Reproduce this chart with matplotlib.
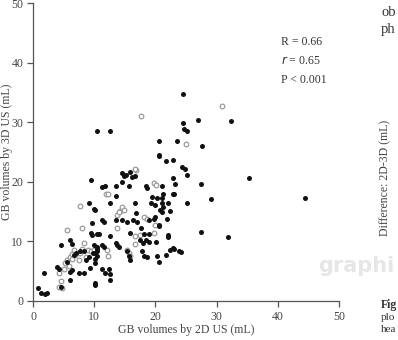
import matplotlib.pyplot as plt

plt.rcParams['font.family'] = ['Liberation Serif', 'DejaVu Serif']

# ─── data ──────────────────────────────────────────────────────
solid_x = [0.8, 1.3, 1.9, 2.3, 1.8, 4.5, 3.9, 4.2, 4.6, 6.1, 6.4, 6.0, 7.5, 7.7, 8.3,
           8.6, 9.1, 9.8, 10.5, 9.3, 8.3, 9.9, 10.4, 6.7, 7.0, 5.6, 6.1, 6.3, 9.4, 9.7,
           10.5, 9.7, 10.2, 11.6, 10.7, 12.6, 11.3, 11.6, 13.5, 13.7, 14.0, 10.2, 10.5, 15.4, 15.6,
           15.9, 17.8, 18.1, 18.6, 20.3, 17.9, 18.9, 11.3, 11.8, 12.4, 12.6, 12.6, 10.2, 15.9, 18.9,
           18.4, 20.5, 10.2, 21.7, 22.3, 23.0, 23.8, 22.1, 9.5, 9.1, 9.9, 10.2, 11.3, 11.7, 13.5,
           15.6, 18.4, 21.1, 13.5, 12.6, 16.7, 14.6, 14.8, 15.2, 16.2, 16.6, 14.6, 19.4, 20.3, 21.0,
           19.3, 20.0, 21.0, 11.3, 13.5, 14.6, 15.4, 16.4, 18.9, 19.7, 20.5, 21.8, 22.8, 24.3, 24.8,
           25.2, 22.8, 23.2, 27.4, 21.3, 23.1, 29.0, 25.2, 20.8, 22.3, 21.9, 27.5, 22.0, 31.8, 22.9,
           35.3, 44.5, 10.4, 12.6, 24.5, 24.5, 24.6, 25.2, 27.0, 32.3, 20.6, 23.5, 20.6, 27.6, 10.5,
           10.1, 15.9, 16.9, 17.0, 17.5, 17.7, 18.1, 18.6, 20.0, 20.1, 20.5, 21.0, 21.3, 22.1, 22.8,
           24.1, 20.6]
solid_y = [2.2, 1.3, 1.2, 1.4, 4.6, 9.4, 5.7, 5.4, 2.4, 4.9, 5.2, 3.5, 4.7, 8.3, 8.4,
           6.9, 7.3, 8.0, 8.3, 5.5, 4.6, 9.4, 9.1, 7.7, 8.0, 6.6, 10.2, 9.5, 11.4, 11.1,
           11.2, 13.0, 2.7, 13.3, 11.2, 10.9, 9.4, 9.1, 9.7, 9.4, 9.1, 8.0, 7.5, 8.3, 7.5,
           6.9, 8.3, 7.5, 7.4, 7.5, 9.7, 9.9, 5.3, 4.7, 5.3, 4.5, 3.5, 6.3, 11.4, 11.3,
           10.2, 12.6, 3.0, 7.7, 8.5, 8.7, 8.4, 11.0, 20.3, 16.4, 15.4, 15.2, 19.1, 19.3, 19.3,
           19.3, 19.3, 19.3, 17.6, 16.5, 16.5, 21.4, 20.9, 21.1, 20.8, 20.9, 19.9, 17.5, 17.2, 17.2,
           16.4, 16.1, 16.4, 13.5, 13.6, 13.5, 13.3, 13.6, 13.5, 13.7, 24.5, 23.5, 23.7, 22.5, 22.2,
           21.1, 20.7, 19.7, 19.6, 18.0, 17.9, 17.1, 16.4, 15.2, 15.1, 13.7, 11.5, 10.8, 10.8, 8.8,
           20.7, 17.2, 28.6, 28.6, 34.7, 29.9, 28.9, 28.6, 30.3, 30.2, 26.9, 26.9, 24.4, 26.0, 8.7,
           7.0, 21.7, 14.7, 13.3, 10.2, 12.3, 11.3, 18.9, 14.1, 9.9, 12.7, 15.0, 15.7, 16.5, 17.9,
           8.2, 6.5]

open_x = [4.2, 4.5, 4.2, 4.8, 5.0, 5.3, 5.6, 5.8, 6.1, 6.4, 6.7, 6.9, 7.5, 7.7, 8.0,
          8.6, 8.9, 9.5, 10.0, 7.7, 5.6, 8.0, 8.3, 12.0, 12.3, 12.1, 13.7, 13.7, 14.2, 14.5,
          14.9, 14.1, 15.4, 15.6, 15.8, 16.7, 17.5, 16.7, 16.8, 18.1, 18.6, 19.7, 20.1, 19.7, 20.0,
          17.6, 25.0, 30.9, 16.7, 12.3, 6.3]
open_y = [4.6, 3.4, 2.4, 2.1, 5.3, 6.3, 6.9, 5.9, 7.3, 7.0, 8.5, 7.7, 6.9, 8.1, 8.7,
          7.3, 8.5, 8.4, 8.6, 15.9, 11.9, 12.3, 9.8, 17.9, 7.5, 8.5, 12.2, 14.4, 15.1, 15.7,
          15.3, 15.0, 8.6, 8.1, 7.5, 10.9, 11.0, 9.5, 21.9, 14.1, 13.7, 19.8, 19.4, 11.4, 12.7,
          31.1, 26.3, 32.7, 22.1, 18.0, 7.9]

ticks = [0, 10, 20, 30, 40, 50]
stats = ['R = 0.66', '$r$ = 0.65', 'P < 0.001']

# ─── figure ────────────────────────────────────────────────────
fig = plt.figure(figsize=(3.98, 3.40), dpi=100)
ax = fig.add_axes([0.083, 0.115, 0.769, 0.876])

ax.scatter(open_x, open_y, s=11, facecolors='white', edgecolors='#9a9a9a',
           linewidths=0.9, zorder=2)
ax.scatter(solid_x, solid_y, s=13, color='#111111', linewidths=0, zorder=3)

ax.set_xlim(0, 50)
ax.set_ylim(0, 50)
ax.set_xticks(ticks)
ax.set_yticks(ticks)
for s in ['top', 'right']:
    ax.spines[s].set_visible(False)
for s in ['left', 'bottom']:
    ax.spines[s].set_color('#555555')
    ax.spines[s].set_linewidth(0.9)
ax.tick_params(direction='out', length=4, width=0.9, color='#555555',
               labelsize=8.5, labelcolor='#444444', pad=3)
ax.set_xlabel('GB volumes by 2D US (mL)', fontsize=8.5, color='#444444')
ax.set_ylabel('GB volumes by 3D US (mL)', fontsize=8.5, color='#444444')
ax.xaxis.set_label_coords(0.5, -0.078)
ax.yaxis.set_label_coords(-0.067, 0.5)

for i, t in enumerate(stats):
    fig.text(281 / 398, 1 - (42 + 19 * i) / 340, t, fontsize=8.5, color='#333333',
             va='center', ha='left')

# ─── cut-off neighbouring page content ────────────────────────
fig.text(381 / 398, 1 - 13 / 340, 'ob', fontsize=10.5, color='#333333', va='center')
fig.text(381 / 398, 1 - 30 / 340, 'ph', fontsize=10.5, color='#333333', va='center')
fig.text(385 / 398, 1 - 178 / 340, 'Difference: 2D-3D (mL)', fontsize=8.5,
         color='#444444', rotation=90, va='center', ha='center')
fig.text(394 / 398, 1 - 266 / 340, 'graphi', fontsize=15, color='#e6e6e6',
         family='DejaVu Sans', weight='bold', va='center', ha='right')
fig.text(381 / 398, 1 - 305 / 340, 'Fig', fontsize=8.5, weight='bold', color='#333333', va='center')
fig.text(381 / 398, 1 - 318 / 340, 'plo', fontsize=8, color='#333333', va='center')
fig.text(381 / 398, 1 - 330 / 340, 'hea', fontsize=8, color='#333333', va='center')

plt.savefig('out.png', dpi=100)
